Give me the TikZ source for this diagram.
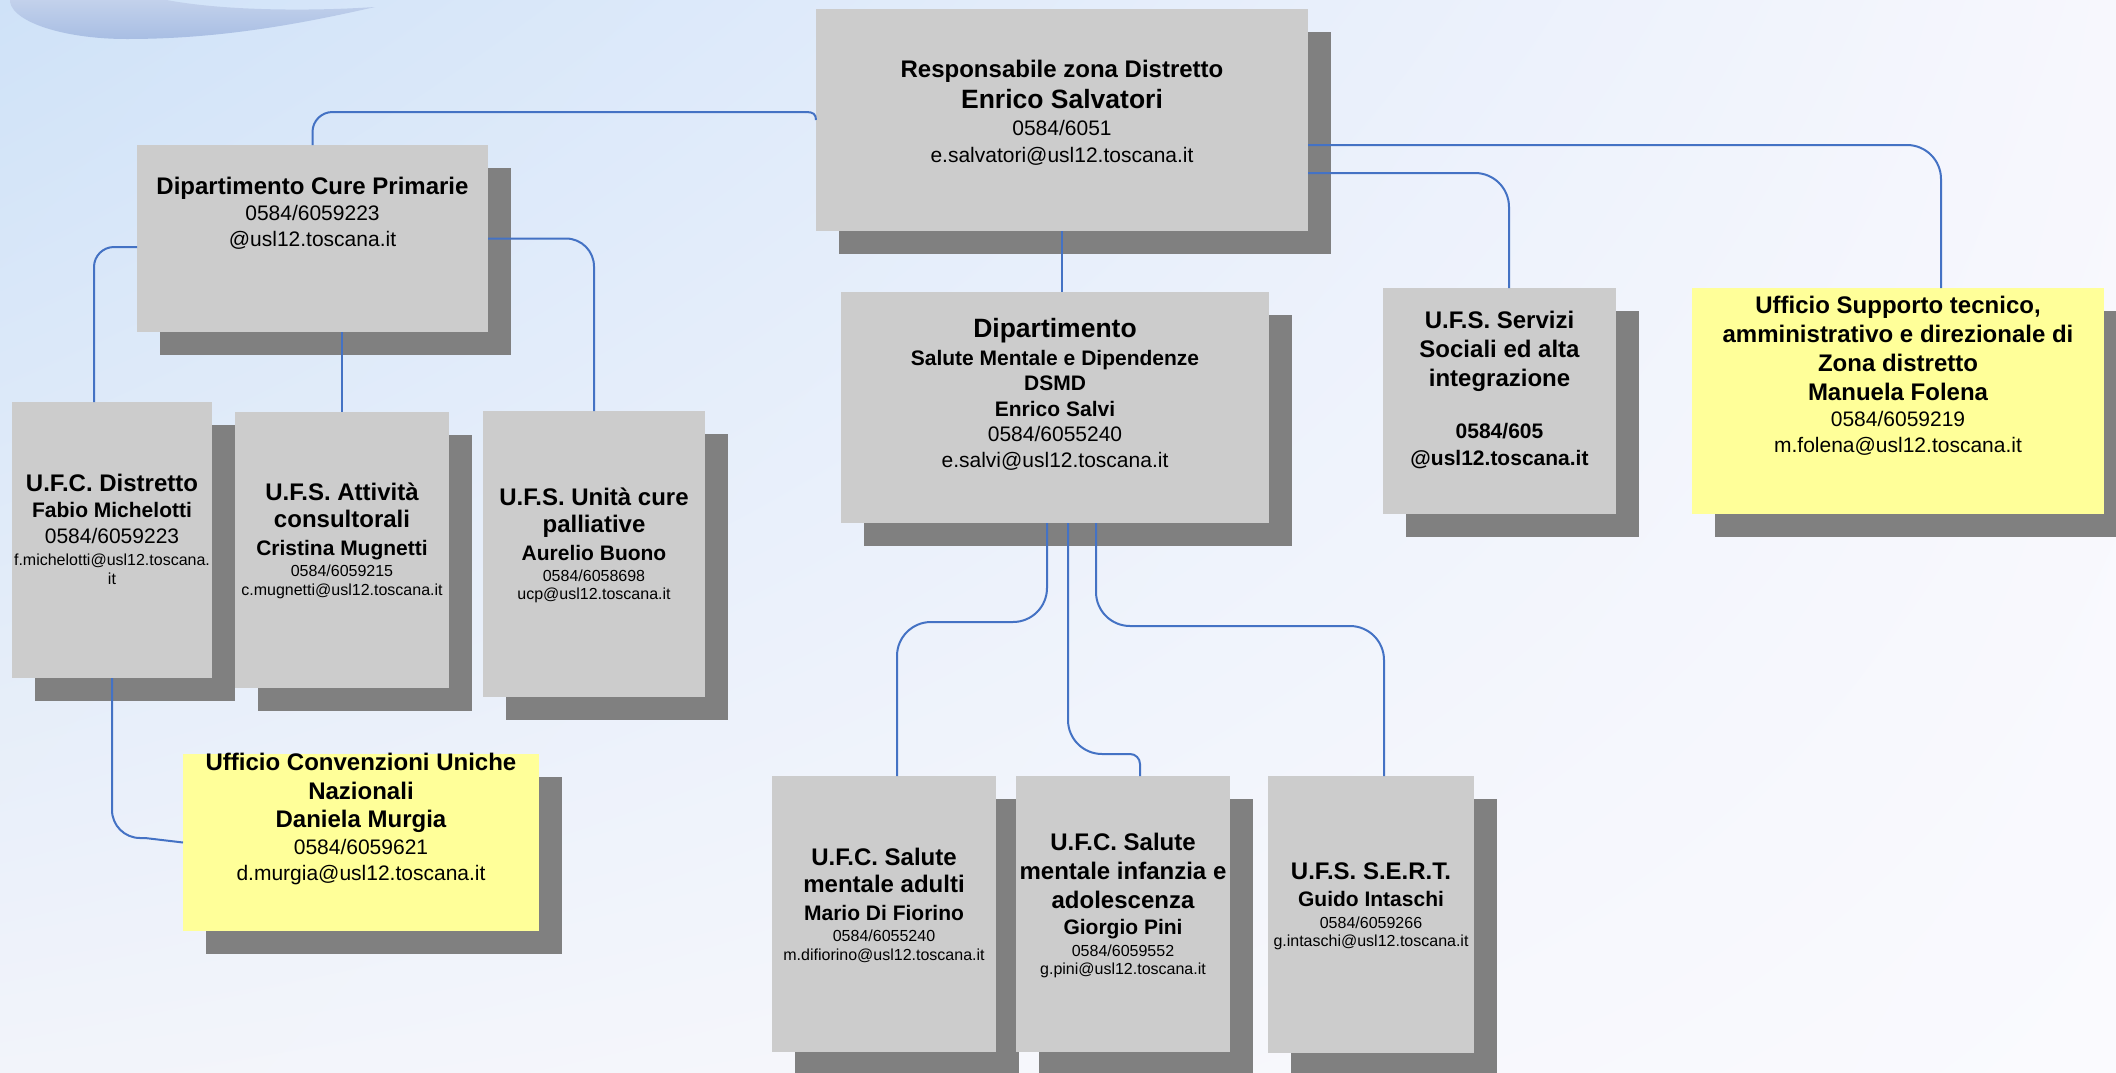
\documentclass[tikz,border=0pt]{standalone}
\usepackage{fontspec}
\setmainfont{Liberation Sans}
\usetikzlibrary{shadows,shadings}
\definecolor{boxgray}{RGB}{204,204,204}
\definecolor{shadowgray}{RGB}{128,128,128}
\definecolor{boxyellow}{RGB}{255,255,153}
\definecolor{linkblue}{RGB}{68,114,196}
\definecolor{bgUL}{RGB}{207,226,248}
\definecolor{bgUR}{RGB}{247,247,253}
\definecolor{bgLL}{RGB}{242,244,250}
\definecolor{bgLR}{RGB}{250,250,254}
\definecolor{swT}{RGB}{196,210,236}
\definecolor{swB}{RGB}{168,190,227}
\newcommand\szA{\fontsize{13.25pt}{16pt}\selectfont\bfseries}
\newcommand\szB{\fontsize{12pt}{14pt}\selectfont\bfseries}
\newcommand\szC{\fontsize{10.5pt}{12.6pt}\selectfont\bfseries}
\newcommand\szN{\fontsize{10.5pt}{12.6pt}\selectfont\mdseries}
\newcommand\szS{\fontsize{8pt}{9.6pt}\selectfont\mdseries}
\newcommand\tp{\rule{0pt}{0.8em}}
\begin{document}
\begin{tikzpicture}[x=0.5pt,y=-0.5pt,
  gbox/.style={fill=boxgray, inner sep=0pt, outer sep=0pt,
    drop shadow={shadow xshift=11.5pt, shadow yshift=-11.5pt, fill=shadowgray, opacity=1}},
  ybox/.style={gbox, fill=boxyellow},
  txt/.style={inner sep=0pt, outer sep=0pt, align=center, anchor=north, text=black},
  link/.style={draw=linkblue, line width=1pt}]
\useasboundingbox (0,0) rectangle (2116,1072);
\clip (0,0) rectangle (2116,1072);
\shade[upper left=bgUL, upper right=bgUR, lower left=bgLL, lower right=bgLR] (0,0) rectangle (2116,1072);
% decorative swoosh
\shade[top color=swT, bottom color=swB] (10,-2) .. controls (7,20) and (60,39) .. (127,39)
  .. controls (220,39) and (300,24) .. (375,7) .. controls (300,12) and (210,10) .. (157,-2) -- cycle;

% boxes
\node[gbox, minimum width=246pt, minimum height=111pt] (resp) at (1062,120) {};
\node[gbox, minimum width=175.5pt, minimum height=93.5pt] (cp) at (312.5,238.5) {};
\node[gbox, minimum width=214pt, minimum height=115.5pt] (dsmd) at (1055,407.5) {};
\node[gbox, minimum width=116.5pt, minimum height=113pt] (serv) at (1499.5,401) {};
\node[ybox, minimum width=206pt, minimum height=113pt] (supp) at (1898,401) {};
\node[gbox, minimum width=100pt, minimum height=138pt] (dist) at (112,540) {};
\node[gbox, minimum width=107pt, minimum height=138pt] (att) at (342,550) {};
\node[gbox, minimum width=111pt, minimum height=143pt] (uni) at (594,554) {};
\node[ybox, minimum width=178pt, minimum height=88.5pt] (conv) at (361,842.5) {};
\node[gbox, minimum width=112pt, minimum height=138pt] (adu) at (884,914) {};
\node[gbox, minimum width=107pt, minimum height=138pt] (inf) at (1123,914) {};
\node[gbox, minimum width=103pt, minimum height=138.5pt] (sert) at (1371,914.5) {};

% rails and bends
\coordinate (aend) at (806,112);
\coordinate (b1) at (94,247);
\coordinate (e1) at (145,838);
\coordinate (g1) at (1509,173);
\coordinate (h1) at (1941,145);
\coordinate (i0) at (1047,0);
\coordinate (i1) at (897,622);
\coordinate (j0) at (1068,0);
\coordinate (j1) at (1118,754);
\coordinate (j2) at (1140,754);
\coordinate (k0) at (1096,0);
\coordinate (k1) at (1384,626);

% connectors
\draw[link, rounded corners=10pt] (cp.north) |- (aend);
\draw[link] (aend) .. controls (813,112) and (816,114) .. (resp.west);
\draw[link, rounded corners=10pt] (cp.west |- b1) -| (dist.north -| b1);
\draw[link] (cp.south -| att.north) -- (att.north);
\draw[link, rounded corners=14pt] (cp.east) -| (uni.north);
\draw[link, rounded corners=14pt] (dist.south) |- (e1);
\draw[link] (e1) -- (conv.west);
\draw[link] (resp.south) -- (resp.south |- dsmd.north);
\draw[link, rounded corners=17pt] (resp.east |- g1) -| (serv.north -| g1);
\draw[link, rounded corners=17pt] (resp.east |- h1) -| (supp.north -| h1);
\draw[link, rounded corners=17pt] (dsmd.south -| i0) |- (i1) -- (adu.north -| i1);
\draw[link, rounded corners=17pt] (dsmd.south -| j0) |- (j1);
\draw[link, rounded corners=5pt] (j1) -| (inf.north -| j2);
\draw[link, rounded corners=17pt] (dsmd.south -| k0) |- (k1) -- (sert.north -| k1);

% texts
\node[txt, font=\fontsize{10.5pt}{13.5pt}\selectfont] (tresp) at (1062,57.8)
  {\szB\tp Responsabile zona Distretto\\[2pt] \szA Enrico Salvatori\\ \szN 0584/6051\\ \szN e.salvatori@usl12.toscana.it};
\node[txt, font=\fontsize{10.5pt}{13pt}\selectfont] (tcp) at (312.5,174.8)
  {\szB\tp Dipartimento Cure Primarie\\ \szN 0584/6059223\\ \szN @usl12.toscana.it};
\node[txt, font=\fontsize{10.5pt}{12.75pt}\selectfont] (tdsmd) at (1055,315.8)
  {\szA\tp Dipartimento\\[1.25pt] \szC Salute Mentale e Dipendenze\\ \szC DSMD\\ \szC Enrico Salvi\\ \szN 0584/6055240\\ \szN e.salvi@usl12.toscana.it};
\node[txt, font=\fontsize{10.5pt}{13.5pt}\selectfont] (tserv) at (1499.5,308.8)
  {\szB\tp U.F.S. Servizi\\[1pt] \szB Sociali ed alta\\[1pt] \szB integrazione\\[12.5pt] \szC 0584/605\\ \szC @usl12.toscana.it};
\node[txt, font=\fontsize{10.5pt}{13pt}\selectfont] (tsupp) at (1898,293.8)
  {\szB\tp Ufficio Supporto tecnico,\\[1.5pt] \szB amministrativo e direzionale di\\[1.5pt] \szB Zona distretto\\[1.5pt] \szB Manuela Folena\\ \szN 0584/6059219\\ \szN m.folena@usl12.toscana.it};
\node[txt, font=\fontsize{10.5pt}{13pt}\selectfont] (tdist) at (112,472.5)
  {\szB\tp U.F.C. Distretto\\ \szC Fabio Michelotti\\ \szN 0584/6059223\\[-2.2pt] \szS f.michelotti@usl12.toscana.\\[-3.65pt] \szS it};
\node[txt, font=\fontsize{10.5pt}{13.5pt}\selectfont] (tatt) at (342,481.5)
  {\szB\tp U.F.S. Attività\\ \szB consultorali\\[0.5pt] \szC Cristina Mugnetti\\[-3pt] \szS 0584/6059215\\[-4.35pt] \szS c.mugnetti@usl12.toscana.it};
\node[txt, font=\fontsize{10.5pt}{13.75pt}\selectfont] (tuni) at (594,485.8)
  {\szB\tp U.F.S. Unità cure\\ \szB palliative\\ \szC Aurelio Buono\\[-3.25pt] \szS 0584/6058698\\[-4.75pt] \szS ucp@usl12.toscana.it};
\node[txt, font=\fontsize{10.5pt}{13.5pt}\selectfont] (tconv) at (361,750.8)
  {\szB\tp Ufficio Convenzioni Uniche\\[1pt] \szB Nazionali\\[0.5pt] \szB Daniela Murgia\\ \szN 0584/6059621\\[-0.5pt] \szN d.murgia@usl12.toscana.it};
\node[txt, font=\fontsize{10.5pt}{13.75pt}\selectfont] (tadu) at (884,845.8)
  {\szB\tp U.F.C. Salute\\ \szB mentale adulti\\ \szC Mario Di Fiorino\\[-3.25pt] \szS 0584/6055240\\[-4.1pt] \szS m.difiorino@usl12.toscana.it};
\node[txt, font=\fontsize{10.5pt}{14.5pt}\selectfont] (tinf) at (1123,830.8)
  {\szB\tp U.F.C. Salute\\ \szB mentale infanzia e\\ \szB adolescenza\\[-1.35pt] \szC Giorgio Pini\\[-3.65pt] \szS 0584/6059552\\[-5.15pt] \szS g.pini@usl12.toscana.it};
\node[txt, font=\fontsize{10.5pt}{13.7pt}\selectfont] (tsert) at (1371,860.1)
  {\szB\tp U.F.S. S.E.R.T.\\ \szC Guido Intaschi\\[-2.9pt] \szS 0584/6059266\\[-4.5pt] \szS g.intaschi@usl12.toscana.it};
\end{tikzpicture}
\end{document}
